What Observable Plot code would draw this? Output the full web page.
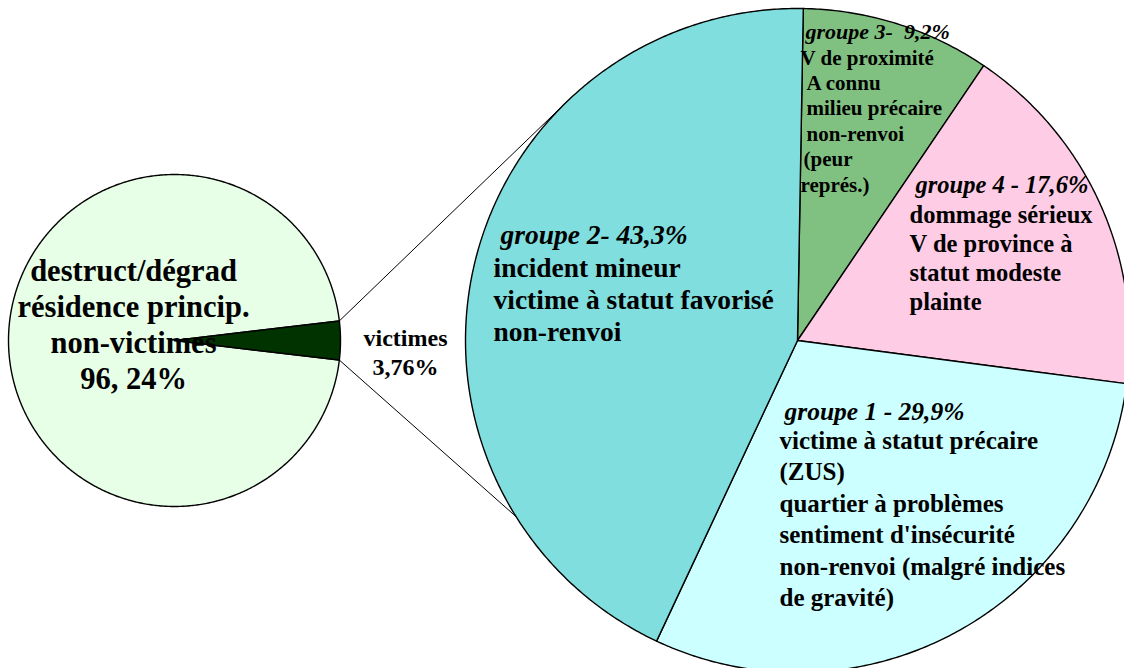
<!DOCTYPE html>
<html>
<head>
<meta charset="utf-8">
<script src="https://cdn.jsdelivr.net/npm/d3@7"></script>
<script src="https://cdn.jsdelivr.net/npm/@observablehq/plot@0.6"></script>
<style>
  html, body { margin: 0; padding: 0; background: #ffffff; }
  #chart svg { display: block; }
</style>
</head>
<body>
<div id="chart"></div>
<script>
// ---------- DATA ----------
const mainCategories = ["non-victimes", "victimes"];
const mainValues = [96.24, 3.76];
const mainLabelLines = [
  ["destruct/dégrad", "résidence princip.", "non-victimes", "96, 24%"],
  ["victimes", "3,76%"]
];

const groupCategories = ["groupe 3", "groupe 4", "groupe 1", "groupe 2"];
const groupValues = [9.2, 17.6, 29.9, 43.3];
const groupTitles = ["groupe 3- \u00a09,2%", "groupe 4 - 17,6%", "groupe 1 - 29,9%", "groupe 2- 43,3%"];
const groupLabelLines = [
  ["V de proximité", "A connu", "milieu précaire", "non-renvoi", "(peur", "représ.)"],
  ["dommage sérieux", "V de province à", "statut modeste", "plainte"],
  ["victime à statut précaire", "(ZUS)", "quartier à problèmes", "sentiment d'insécurité", "non-renvoi (malgré indices", "de gravité)"],
  ["incident mineur", "victime à statut favorisé", "non-renvoi"]
];

// ---------- STYLE / LAYOUT ----------
const W = 1124, H = 668;
const mainColors = ["#e6ffe6", "#003300"];
const groupColors = ["#80c080", "#ffcce6", "#ccffff", "#80dede"];
const smallPie = {cx: 174, cy: 340, r: 166};
const bigPie = {cx: 797, cy: 340, r: 332, start: 1};
const FONT = "'Liberation Serif', 'DejaVu Serif', serif";

const mainLabelLayout = [
  {x: 133, y0: 280, dy: 36, size: 30.5, anchor: "middle"},
  {x: 405, y0: 345, dy: 29, size: 24, anchor: "middle"}
];
const groupLabelLayout = [
  {tx: 805, ty: 38, x: 800, y0: 64, dy: 25.4, size: 21, tsize: 22, offs: [0, 6, 6, 6, 3, 0]},
  {tx: 915, ty: 192, x: 909, y0: 222, dy: 29, size: 24.5, tsize: 24.5, offs: [0, 0, 0, 0]},
  {tx: 784, ty: 419, x: 779, y0: 448, dy: 31.5, size: 25, tsize: 25.5, offs: [0, 0, 0, 0, 0, 0]},
  {tx: 500, ty: 243, x: 493, y0: 276, dy: 32, size: 27.5, tsize: 27.5, offs: [0, 0, 0]}
];

// ---------- GEOMETRY (from data) ----------
function slices(values, startDeg) {
  const total = d3.sum(values);
  let a = startDeg;
  return values.map(v => {
    const a0 = a, a1 = a + v / total * 360;
    a = a1;
    return [a0, a1];
  });
}
function polar(c, deg, r = c.r) {
  const t = deg * Math.PI / 180;
  return [c.cx + r * Math.sin(t), c.cy - r * Math.cos(t)];
}
function wedgePoints(c, a0, a1, key, color) {
  const pts = [{x: c.cx, y: c.cy, key, color}];
  const n = Math.max(2, Math.ceil((a1 - a0) / 0.5));
  for (let i = 0; i <= n; i++) {
    const [x, y] = polar(c, a0 + (a1 - a0) * i / n);
    pts.push({x, y, key, color});
  }
  pts.push({x: c.cx, y: c.cy, key, color});
  return pts;
}

// small pie: victims wedge centered on the right (90°)
const victimShare = mainValues[1] / d3.sum(mainValues) * 360;
const mainAngles = slices(mainValues, 90 + victimShare / 2);
let pieRows = [];
mainCategories.forEach((k, i) => {
  pieRows = pieRows.concat(wedgePoints(smallPie, mainAngles[i][0], mainAngles[i][1], "m-" + k, mainColors[i]));
});
const groupAngles = slices(groupValues, bigPie.start);
groupCategories.forEach((k, i) => {
  pieRows = pieRows.concat(wedgePoints(bigPie, groupAngles[i][0], groupAngles[i][1], "g-" + k, groupColors[i]));
});

// connector lines: from victims wedge edges to big pie
const upperStart = polar(smallPie, 90 - victimShare / 2);
const lowerStart = polar(smallPie, 90 + victimShare / 2);
function tangentPoint(P, c) {
  const dx = P[0] - c.cx, dy = P[1] - c.cy;
  const d = Math.hypot(dx, dy);
  const base = Math.atan2(dy, dx);
  const off = Math.acos(c.r / d);
  const cands = [base + off, base - off].map(t => [c.cx + c.r * Math.cos(t), c.cy + c.r * Math.sin(t)]);
  return cands.sort((a, b) => a[1] - b[1])[0];
}
const upperEnd = tangentPoint(upperStart, bigPie);
const lowerEnd = polar(bigPie, groupAngles[3][0]); // boundary groupe 1 / groupe 2
const connectors = [
  {x: upperStart[0], y: upperStart[1], k: "u"}, {x: upperEnd[0], y: upperEnd[1], k: "u"},
  {x: lowerStart[0], y: lowerStart[1], k: "l"}, {x: lowerEnd[0], y: lowerEnd[1], k: "l"}
];

// text rows
const textRows = [];
mainLabelLines.forEach((lines, i) => {
  const L = mainLabelLayout[i];
  lines.forEach((t, j) => textRows.push({x: L.x, y: L.y0 + j * L.dy, text: t, size: L.size, anchor: L.anchor}));
});
const titleRows = [];
groupLabelLines.forEach((lines, i) => {
  const L = groupLabelLayout[i];
  titleRows.push({x: L.tx, y: L.ty, text: groupTitles[i], size: L.tsize});
  lines.forEach((t, j) => textRows.push({x: L.x + L.offs[j], y: L.y0 + j * L.dy, text: t, size: L.size, anchor: "start"}));
});

const chart = Plot.plot({
  width: W,
  height: H,
  margin: 0,
  style: {background: "#ffffff", fontFamily: FONT},
  x: {domain: [0, W], range: [0, W], axis: null},
  y: {domain: [0, H], range: [0, H], axis: null},
  color: {type: "identity"},
  marks: [
    Plot.line(connectors, {x: "x", y: "y", z: "k", stroke: "#000", strokeWidth: 1}),
    Plot.line(pieRows, {x: "x", y: "y", z: "key", fill: "color", stroke: "#000", strokeWidth: 1.4, strokeLinejoin: "round", curve: "linear"}),
    Plot.text(textRows.filter(d => d.anchor === "middle"), {x: "x", y: "y", text: "text", fontSize: d => d.size, textAnchor: "middle", lineAnchor: "bottom", fill: "#000", fontWeight: "bold", fontFamily: FONT}),
    Plot.text(textRows.filter(d => d.anchor === "start"), {x: "x", y: "y", text: "text", fontSize: d => d.size, textAnchor: "start", lineAnchor: "bottom", fill: "#000", fontWeight: "bold", fontFamily: FONT}),
    Plot.text(titleRows, {x: "x", y: "y", text: "text", fontSize: d => d.size, textAnchor: "start", lineAnchor: "bottom", fill: "#000", fontWeight: "bold", fontStyle: "italic", fontFamily: FONT})
  ]
});
document.getElementById("chart").appendChild(chart);
</script>
</body>
</html>
